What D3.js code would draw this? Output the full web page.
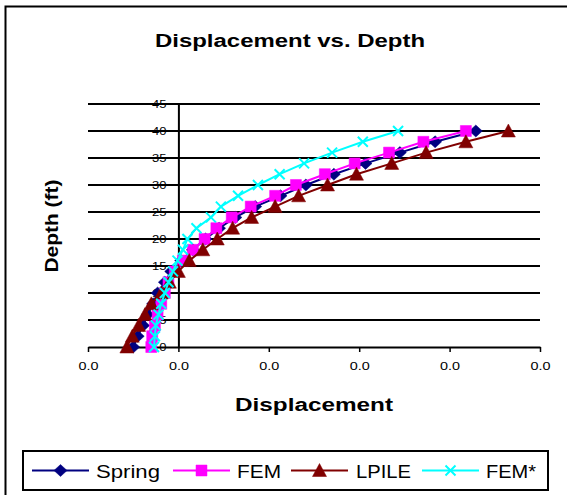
<!DOCTYPE html>
<html>
<head>
<meta charset="utf-8">
<script src="https://cdn.jsdelivr.net/npm/d3@7/dist/d3.min.js"></script>
<style>
  html, body { margin: 0; padding: 0; background: #fff; }
  svg { display: block; font-family: Arial, "Liberation Sans", sans-serif; }
</style>
</head>
<body>
<svg id="chart" width="567" height="495"></svg>
<script>
// Depth of each reading (ft)
const depths = [0, 2, 4, 6, 8, 10, 12, 14, 16, 18, 20, 22, 24, 26, 28, 30, 32, 34, 36, 38, 40];

// Lateral displacement at each depth, per method
const springDisp = [-0.0050, -0.0045, -0.0039, -0.0034, -0.0028, -0.0023, -0.0015, -0.0008, 0.0003, 0.0016, 0.0030,
                    0.0045, 0.0063, 0.0085, 0.0113, 0.0141, 0.0172, 0.0207, 0.0245, 0.0284, 0.0329];
const femDisp    = [-0.0030, -0.0029, -0.0026, -0.0023, -0.0019, -0.0015, -0.0011, -0.0004, 0.0005, 0.0016, 0.0029,
                    0.0042, 0.0059, 0.0080, 0.0107, 0.0130, 0.0162, 0.0195, 0.0233, 0.0271, 0.0318];
const lpileDisp  = [-0.0057, -0.0051, -0.0044, -0.0037, -0.0030, -0.0019, -0.0010, 0.0000, 0.0012, 0.0027, 0.0043,
                    0.0060, 0.0081, 0.0107, 0.0133, 0.0165, 0.0197, 0.0236, 0.0274, 0.0318, 0.0365];
const femStarDisp = [-0.0027, -0.0026, -0.0025, -0.0022, -0.0019, -0.0015, -0.0011, -0.0006, -0.0001, 0.0005, 0.0010,
                    0.0020, 0.0036, 0.0047, 0.0066, 0.0088, 0.0112, 0.0139, 0.0170, 0.0204, 0.0243];

const seriesNames = ["Spring", "FEM", "LPILE", "FEM*"];

// Axis ticks and their printed labels
const xTicks = [-0.01, 0, 0.01, 0.02, 0.03, 0.04];
const xTickLabels = ["0.0", "0.0", "0.0", "0.0", "0.0", "0.0"];
const yTicks = [0, 5, 10, 15, 20, 25, 30, 35, 40, 45];
const yTickLabels = ["0", "5", "10", "15", "20", "25", "30", "35", "40", "45"];

const series = [
  { name: seriesNames[0], values: springDisp,  color: "#000080", marker: "diamond" },
  { name: seriesNames[1], values: femDisp,     color: "#FF00FF", marker: "square" },
  { name: seriesNames[2], values: lpileDisp,   color: "#800000", marker: "triangle" },
  { name: seriesNames[3], values: femStarDisp, color: "#00FFFF", marker: "cross" }
];

const svg = d3.select("#chart");

const x = d3.scaleLinear().domain([-0.01, 0.04]).range([88, 540]);
const y = d3.scaleLinear().domain([0, 45]).range([347, 104]);

// Marker shapes, centred on (0,0)
function markerPath(type) {
  const p = d3.path();
  if (type === "diamond") {
    p.moveTo(0, -6); p.lineTo(6.5, 0); p.lineTo(0, 6); p.lineTo(-6.5, 0); p.closePath();
  } else if (type === "square") {
    p.rect(-5.5, -5.5, 11, 11);
  } else if (type === "triangle") {
    p.moveTo(0, -7); p.lineTo(7, 6); p.lineTo(-7, 6); p.closePath();
  } else if (type === "cross") {
    p.moveTo(-5, -5); p.lineTo(5, 5); p.moveTo(5, -5); p.lineTo(-5, 5);
  }
  return p.toString();
}

function drawMarker(sel, type, color) {
  sel.append("path")
    .attr("d", markerPath(type))
    .attr("fill", type === "cross" ? "none" : color)
    .attr("stroke", color)
    .attr("stroke-width", type === "cross" ? 2 : 0.5);
}

// Chart-area frame (top and left edges)
svg.append("path")
  .attr("d", "M5.5,495 L5.5,6.5 L567,6.5")
  .attr("fill", "none").attr("stroke", "#000").attr("stroke-width", 2);

// Title
svg.append("text")
  .attr("x", 290).attr("y", 47)
  .attr("text-anchor", "middle")
  .attr("font-size", 18).attr("font-weight", "bold")
  .attr("textLength", 270).attr("lengthAdjust", "spacingAndGlyphs")
  .text("Displacement vs. Depth");

// Horizontal gridlines
svg.append("g").selectAll("line")
  .data(yTicks.slice(1))
  .join("line")
  .attr("x1", x(-0.01)).attr("x2", x(0.04))
  .attr("y1", d => y(d)).attr("y2", d => y(d))
  .attr("stroke", "#000").attr("stroke-width", 2);

// X axis along depth 0
const xAxis = d3.axisBottom(x)
  .tickValues(xTicks)
  .tickFormat((d, i) => xTickLabels[i])
  .tickSize(5).tickSizeOuter(0).tickPadding(10);
const gx = svg.append("g").attr("transform", `translate(0,${y(0)})`).call(xAxis);
gx.select(".domain").attr("stroke", "#000").attr("stroke-width", 2);
gx.selectAll(".tick line").attr("stroke", "#000").attr("stroke-width", 1.5);
gx.selectAll(".tick text")
  .attr("font-size", 11).attr("fill", "#000").attr("font-family", "Arial, 'Liberation Sans', sans-serif")
  .attr("textLength", 20).attr("lengthAdjust", "spacingAndGlyphs");

// Y axis at displacement 0
const yAxis = d3.axisLeft(y)
  .tickValues(yTicks)
  .tickFormat((d, i) => yTickLabels[i])
  .tickSize(0).tickPadding(12);
const gy = svg.append("g").attr("transform", `translate(${x(0)},0)`).call(yAxis);
gy.select(".domain").attr("stroke", "#000").attr("stroke-width", 2);
gy.selectAll(".tick text")
  .attr("font-size", 11).attr("fill", "#000").attr("font-family", "Arial, 'Liberation Sans', sans-serif")
  .each(function () {
    const w = this.getComputedTextLength();
    d3.select(this).attr("textLength", w * 1.18).attr("lengthAdjust", "spacingAndGlyphs");
  });

// Axis titles
svg.append("text")
  .attr("x", 314).attr("y", 411)
  .attr("text-anchor", "middle")
  .attr("font-size", 18).attr("font-weight", "bold")
  .attr("textLength", 158).attr("lengthAdjust", "spacingAndGlyphs")
  .text("Displacement");

svg.append("text")
  .attr("transform", "translate(58,226) rotate(-90)")
  .attr("text-anchor", "middle")
  .attr("font-size", 19).attr("font-weight", "bold")
  .attr("textLength", 93).attr("lengthAdjust", "spacingAndGlyphs")
  .text("Depth (ft)");

// Series lines and markers
const line = d3.line()
  .x(d => x(d[0]))
  .y(d => y(d[1]));

const plot = svg.append("g");
series.forEach(s => {
  const pts = s.values.map((v, i) => [v, depths[i]]);
  plot.append("path")
    .attr("d", line(pts))
    .attr("fill", "none")
    .attr("stroke", s.color)
    .attr("stroke-width", 2);
  plot.append("g").selectAll("g")
    .data(pts)
    .join("g")
    .attr("transform", d => `translate(${x(d[0])},${y(d[1])})`)
    .each(function () { drawMarker(d3.select(this), s.marker, s.color); });
});

// Legend
const legend = svg.append("g");
legend.append("rect")
  .attr("x", 23).attr("y", 451).attr("width", 525).attr("height", 39)
  .attr("fill", "#fff").attr("stroke", "#000").attr("stroke-width", 2);

const legendItems = [
  { lineX: 32,  textX: 96,  textW: 64 },
  { lineX: 173, textX: 237, textW: 44 },
  { lineX: 291, textX: 356, textW: 55 },
  { lineX: 422, textX: 486, textW: 50 }
];
series.forEach((s, i) => {
  const it = legendItems[i];
  const cy = 470.5;
  legend.append("line")
    .attr("x1", it.lineX).attr("x2", it.lineX + 57)
    .attr("y1", cy).attr("y2", cy)
    .attr("stroke", s.color).attr("stroke-width", 2);
  const m = legend.append("g").attr("transform", `translate(${it.lineX + 28.5},${cy})`);
  drawMarker(m, s.marker, s.color);
  legend.append("text")
    .attr("x", it.textX).attr("y", cy + 7)
    .attr("font-size", 19)
    .attr("textLength", it.textW).attr("lengthAdjust", "spacingAndGlyphs")
    .text(s.name);
});
</script>
</body>
</html>
